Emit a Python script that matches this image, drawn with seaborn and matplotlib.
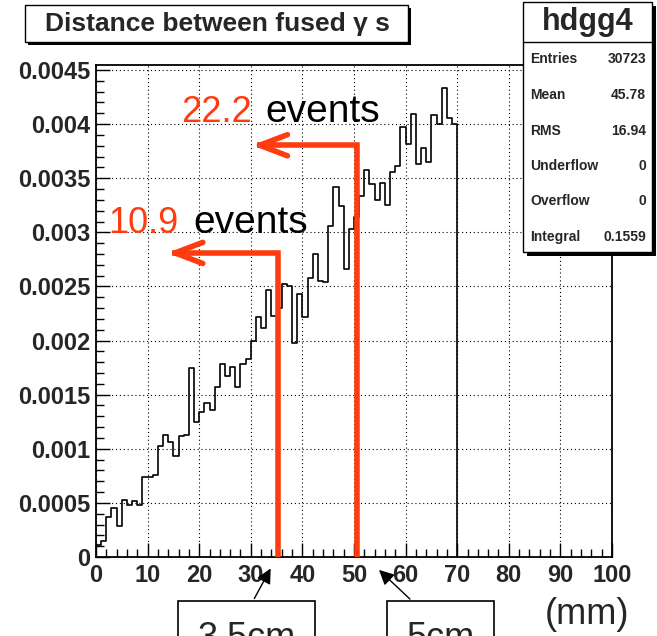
import numpy as np
import pandas as pd
import matplotlib
matplotlib.use("Agg")
import matplotlib.pyplot as plt
import seaborn as sns
from matplotlib.patches import Rectangle
from matplotlib.ticker import MultipleLocator

# ---------------- data ----------------
bin_edges_mm = list(range(0, 71))
bin_content = [
    0.00011, 0.00015, 0.00037, 0.00045, 0.00029, 0.00053, 0.00048, 0.00052, 0.00048, 0.00074,
    0.00074, 0.00076, 0.00103, 0.00113, 0.00106, 0.00093, 0.00112, 0.00113, 0.00175, 0.00125,
    0.00134, 0.00142, 0.00136, 0.00157, 0.00178, 0.00167, 0.00176, 0.00157, 0.00178, 0.00183,
    0.00200, 0.00222, 0.00212, 0.00247, 0.00223, 0.00230, 0.00252, 0.00250, 0.00198, 0.00243,
    0.00222, 0.00258, 0.00280, 0.00255, 0.00254, 0.00306, 0.00342, 0.00324, 0.00266, 0.00303,
    0.00314, 0.00334, 0.00358, 0.00345, 0.00330, 0.00346, 0.00325, 0.00356, 0.00361, 0.00397,
    0.00382, 0.00409, 0.00363, 0.00378, 0.00365, 0.00408, 0.00400, 0.00433, 0.00406, 0.00400,
]
y_ticks = [0, 0.0005, 0.001, 0.0015, 0.002, 0.0025, 0.003, 0.0035, 0.004, 0.0045]
y_tick_labels = ["0", "0.0005", "0.001", "0.0015", "0.002", "0.0025", "0.003", "0.0035", "0.004", "0.0045"]
x_ticks = [0, 10, 20, 30, 40, 50, 60, 70, 80, 90, 100]
x_tick_labels = ["0", "10", "20", "30", "40", "50", "60", "70", "80", "90", "100"]
title_text = "Distance between fused γ s"
stats_name = "hdgg4"
stats_labels = ["Entries", "Mean", "RMS", "Underflow", "Overflow", "Integral"]
stats_values = ["30723", "45.78", "16.94", "0", "0", "0.1559"]
cut_positions_mm = [35.3, 50.6]
cut_heights = [0.00281, 0.003805]
arrow_tips_mm = [13.8, 30.2]
event_counts = ["10.9", "22.2"]
cut_labels = ["3.5cm", "5cm"]
unit_label = "(mm)"

# ---------------- style ----------------
sns.set_style("ticks")
plt.rcParams["font.family"] = ["Liberation Sans", "DejaVu Sans"]

W, H = 657, 636
fig = plt.figure(figsize=(W / 100, H / 100), dpi=100)


def fx(px):
    return px / W


def fy(py):
    return 1 - py / H


ax = fig.add_axes([fx(96), fy(557), fx(612) - fx(96), fy(65) - fy(557)])

edges = np.array(bin_edges_mm, dtype=float)
centers = (edges[:-1] + edges[1:]) / 2
df = pd.DataFrame({"mm": centers, "w": bin_content})
sns.histplot(data=df, x="mm", weights="w", binwidth=1, binrange=(edges[0], edges[-1]),
             element="step", fill=False, color="black", linewidth=1.2, ax=ax)
ax.vlines([edges[0], edges[-1]], 0, [bin_content[0], bin_content[-1]], color="black", lw=1.2)

ymax = max(bin_content) * 1.05
ax.set_xlim(0, 100)
ax.set_ylim(0, ymax)
ax.set_xlabel("")
ax.set_ylabel("")
ax.set_xticks(x_ticks, labels=x_tick_labels)
ax.set_yticks(y_ticks, labels=y_tick_labels)
ax.xaxis.set_minor_locator(MultipleLocator(2))
ax.yaxis.set_minor_locator(MultipleLocator(0.0001))
ax.tick_params(which="both", direction="in", top=False, right=False, width=1, color="black")
ax.tick_params(which="major", length=10)
ax.tick_params(which="minor", length=5.5)
ax.tick_params(axis="x", pad=5)
ax.tick_params(axis="y", pad=4)
for lab in ax.get_xticklabels() + ax.get_yticklabels():
    lab.set_fontsize(17)
    lab.set_fontweight("bold")
ax.grid(True, which="major", color="black", linestyle=(0, (1, 2.5)), linewidth=0.8)
ax.set_axisbelow(True)
for s in ax.spines.values():
    s.set_visible(True)
    s.set_linewidth(1.3)
    s.set_color("black")

# ---------------- red cut arrows ----------------
red = "#ff3c0f"
for xc, hc, tip in zip(cut_positions_mm, cut_heights, arrow_tips_mm):
    ax.plot([xc, xc, tip + 1], [0, hc, hc], color=red, lw=4, solid_joinstyle="miter",
            solid_capstyle="butt", zorder=5)
    ax.annotate("", xy=(tip, hc), xytext=(tip + 3, hc),
                arrowprops=dict(arrowstyle="->,head_length=1.0,head_width=0.38",
                                color=red, lw=4, mutation_scale=20,
                                shrinkA=0, shrinkB=0), zorder=5)

# event labels
fig.text(fx(108), fy(233), event_counts[0], color=red, fontsize=26, va="baseline", ha="left")
fig.text(fx(193), fy(233), "events", color="black", fontsize=28, va="baseline", ha="left")
fig.text(fx(181), fy(122), event_counts[1], color=red, fontsize=26, va="baseline", ha="left")
fig.text(fx(265), fy(122), "events", color="black", fontsize=28, va="baseline", ha="left")

# ---------------- title box ----------------
fig.add_artist(Rectangle((fx(28), fy(45)), fx(408) - fx(25), fy(5) - fy(42),
                         transform=fig.transFigure, facecolor="black", edgecolor="none", zorder=1))
fig.add_artist(Rectangle((fx(25), fy(42)), fx(408) - fx(25), fy(5) - fy(42),
                         transform=fig.transFigure, facecolor="white", edgecolor="black",
                         lw=1, zorder=1.1))
fig.text(fx(45), fy(24), title_text, fontsize=19, fontweight="bold", va="center", ha="left", zorder=3)

# ---------------- stats box ----------------
fig.add_artist(Rectangle((fx(527), fy(256)), fx(652) - fx(523), fy(2) - fy(252),
                         transform=fig.transFigure, facecolor="black", edgecolor="none", zorder=1))
fig.add_artist(Rectangle((fx(523), fy(252)), fx(652) - fx(523), fy(2) - fy(252),
                         transform=fig.transFigure, facecolor="white", edgecolor="black",
                         lw=1, zorder=1.1))
fig.add_artist(plt.Line2D([fx(523), fx(652)], [fy(42), fy(42)], transform=fig.transFigure,
                          color="black", lw=1, zorder=1.2))
fig.text(fx(588), fy(22), stats_name, fontsize=22, fontweight="bold", ha="center", va="center", zorder=3)
row_y = [59, 95, 131, 166, 201, 237]
for yy, lab, val in zip(row_y, stats_labels, stats_values):
    fig.text(fx(530), fy(yy), lab, fontsize=10, fontweight="bold", ha="left", va="center", zorder=3)
    fig.text(fx(646), fy(yy), val, fontsize=10, fontweight="bold", ha="right", va="center", zorder=3)

# ---------------- bottom cut labels ----------------
box_specs = [(178, 315, 253, 272, 566), (387, 494, 412, 377, 568)]
for (x0, x1, ax0, tipx, tipy), lab in zip(box_specs, cut_labels):
    fig.add_artist(Rectangle((fx(x0), fy(660)), fx(x1) - fx(x0), fy(601) - fy(660),
                             transform=fig.transFigure, facecolor="white", edgecolor="black",
                             lw=1.2, zorder=1))
    fig.text(fx((x0 + x1) / 2), fy(648), lab, fontsize=26, ha="center", va="baseline", zorder=3)
    fig.add_artist(matplotlib.patches.FancyArrowPatch(
        (fx(ax0), fy(601)), (fx(tipx), fy(tipy)), transform=fig.transFigure,
        arrowstyle="-|>,head_length=0.6,head_width=0.3", mutation_scale=15,
        color="black", lw=1, zorder=2))

fig.text(fx(545), fy(624), unit_label, fontsize=26, ha="left", va="baseline")

fig.savefig("out.png", dpi=100)
